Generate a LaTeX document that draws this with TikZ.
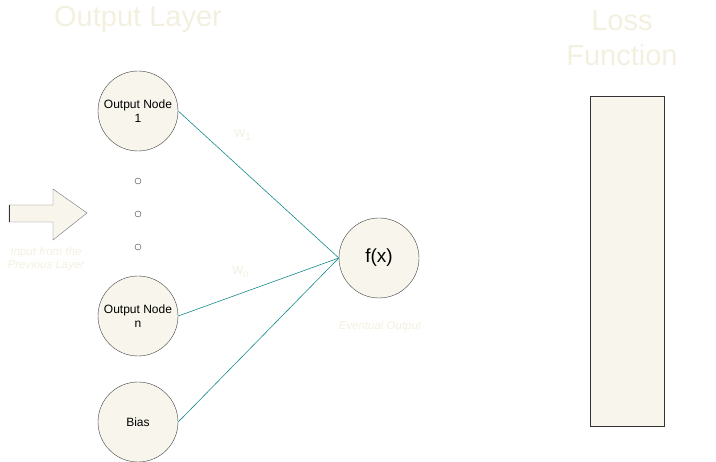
\documentclass[tikz,border=0pt]{standalone}
\usepackage{fontspec}
\setmainfont{Liberation Sans}
\usetikzlibrary{positioning}
\definecolor{cream}{HTML}{F7F5EC}
\definecolor{paletxt}{HTML}{F3F0E0}
\definecolor{tealline}{HTML}{17898A}
\tikzset{
  neuron/.style={circle,draw=black!75,fill=cream,minimum size=80pt,inner sep=0pt,align=center,font=\fontsize{12}{14}\selectfont},
  dotnode/.style={circle,draw=black!75,fill=white,minimum size=6pt,inner sep=0pt},
  paletitle/.style={text=paletxt,align=center,font=\fontsize{29}{35}\selectfont},
  palenote/.style={text=paletxt,align=center,font=\fontsize{11.5}{13}\selectfont\itshape},
  weightlabel/.style={text=paletxt,font=\fontsize{15}{17}\selectfont},
  weight/.style={draw=tealline,line width=0.6pt}
}
\begin{document}
\begin{tikzpicture}[x=1pt,y=-1pt]
	\useasboundingbox (0,0) rectangle (716,462);
	\node[paletitle] (layertitle) at (138,19) {Output Layer};
	\node[paletitle] (losstitle) at (622,38) {Loss\\Function};
	
	\node[neuron] (out1) at (138,111) {Output Node\\1};
	\node[neuron] (outn) at (138,316) {Output Node\\n};
	\node[neuron] (bias) at (138,422) {Bias};
	\node[neuron,font=\fontsize{19}{22}\selectfont] (fx) at (379,258) {f(x)};
	
	\node[dotnode] (dot1) at (138,181) {};
	\node[dotnode] (dot2) at (138,214) {};
	\node[dotnode] (dot3) at (138,247) {};
	
	% input arrow
	\draw[draw=black!55,fill=cream] (9,205) -- (53,205) -- (53,189) -- (87,213) -- (53,240) -- (53,222) -- (9,222) -- cycle;
	\draw[black!80,line width=1pt] (9,205) -- (9,222);
	\node[palenote] (inputnote) at (46,259) {Input from the\\Previous Layer};
	
	\draw[weight] (out1.east) -- (fx.west);
	\draw[weight] (outn.east) -- (fx.west);
	\draw[weight] (bias.east) -- (fx.west);
	\node[weightlabel] (w1) at (243,135) {w\textsubscript{1}};
	\node[weightlabel] (wn) at (241,272) {w\textsubscript{n}};
	\node[palenote] (eventual) at (380,327) {Eventual Output};
	
	% loss box
	\draw[black!80,fill=cream,line width=0.8pt] (590,96) rectangle (664,426);
\end{tikzpicture}
\end{document}
